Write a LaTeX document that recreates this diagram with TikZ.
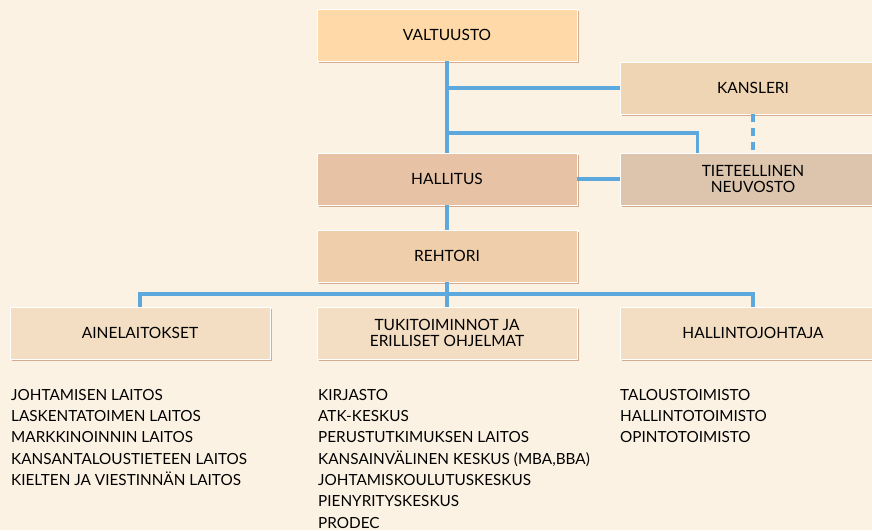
\documentclass[tikz,border=0pt]{standalone}
\usepackage{fontspec}
\setmainfont{Lato}
\usepackage{tikz}
\usetikzlibrary{shadows}

\definecolor{bgcream}{HTML}{FCF2E3}
\definecolor{linkblue}{HTML}{5DA8DC}
\definecolor{shadebrown}{HTML}{D3AC92}
\definecolor{valtfill}{HTML}{FFD9A8}
\definecolor{kansfill}{HTML}{F0D5B5}
\definecolor{tietfill}{HTML}{DCC5AC}
\definecolor{hallfill}{HTML}{E8C2A5}
\definecolor{rehtfill}{HTML}{EFCFAB}
\definecolor{unitfill}{HTML}{F3DEC4}

\tikzset{
  orgbox/.style={draw=white, line width=0.8pt, minimum width=260pt, minimum height=52pt,
    align=center, inner sep=0pt, font=\fontsize{15.5}{16}\selectfont,
    drop shadow={shadow xshift=1.6pt, shadow yshift=-1.6pt, fill=shadebrown, opacity=1}},
  widebox/.style={orgbox, minimum width=266pt},
  link/.style={draw=linkblue, line width=3.2pt},
  unitlist/.style={anchor=north west, align=left, inner sep=0pt, font=\fontsize{15.3}{21.3}\selectfont}
}

\begin{document}
\begin{tikzpicture}[x=1pt,y=-1pt]

\fill [bgcream] (0,0) rectangle (872,530);
\useasboundingbox (0,0) rectangle (872,530);

\node [orgbox, fill=valtfill] (valtuusto) at (447,35) {VALTUUSTO};
\node [widebox, fill=kansfill] (kansleri) at (753,88) {KANSLERI};
\node [orgbox, fill=hallfill] (hallitus) at (447,179) {HALLITUS};
\node [widebox, fill=tietfill] (tieteellinen) at (753,179) {TIETEELLINEN\\NEUVOSTO};
\node [orgbox, fill=rehtfill] (rehtori) at (447,256) {REHTORI};

\node [orgbox, fill=unitfill] (ainelaitokset) at (140,333) {AINELAITOKSET};
\node [orgbox, fill=unitfill] (tukitoiminnot) at (447,333) {TUKITOIMINNOT JA\\ERILLISET OHJELMAT};
\node [widebox, fill=unitfill] (hallintojohtaja) at (753,333) {HALLINTOJOHTAJA};

\coordinate (kbranch) at (447,88);
\coordinate (tbranch) at (447,133);
\coordinate (rbranch) at (447,294);


\draw [link] (valtuusto.south) -- (hallitus.north);
\draw [link] (kbranch) -- (kansleri.west);
\draw [link] (tbranch) -| ([xshift=78pt]tieteellinen.north west);
\draw [link, dash pattern=on 8pt off 6pt] (kansleri.south) -- (tieteellinen.north);
\draw [link] (hallitus.east) -- (tieteellinen.west);
\draw [link] (hallitus.south) -- (rehtori.north);
\draw [link] (rehtori.south) -- (tukitoiminnot.north);
\draw [link] (rbranch) -| (ainelaitokset.north);
\draw [link] (rbranch) -| (hallintojohtaja.north);


\node [unitlist] (laitokset) at (11,389) {JOHTAMISEN LAITOS\\LASKENTATOIMEN LAITOS\\MARKKINOINNIN LAITOS\\KANSANTALOUSTIETEEN LAITOS\\KIELTEN JA VIESTINNÄN LAITOS};
\node [unitlist] (keskukset) at (318,389) {KIRJASTO\\ATK-KESKUS\\PERUSTUTKIMUKSEN LAITOS\\KANSAINVÄLINEN KESKUS (MBA,BBA)\\JOHTAMISKOULUTUSKESKUS\\PIENYRITYSKESKUS\\PRODEC};
\node [unitlist] (toimistot) at (620,389) {TALOUSTOIMISTO\\HALLINTOTOIMISTO\\OPINTOTOIMISTO};

\end{tikzpicture}
\end{document}
